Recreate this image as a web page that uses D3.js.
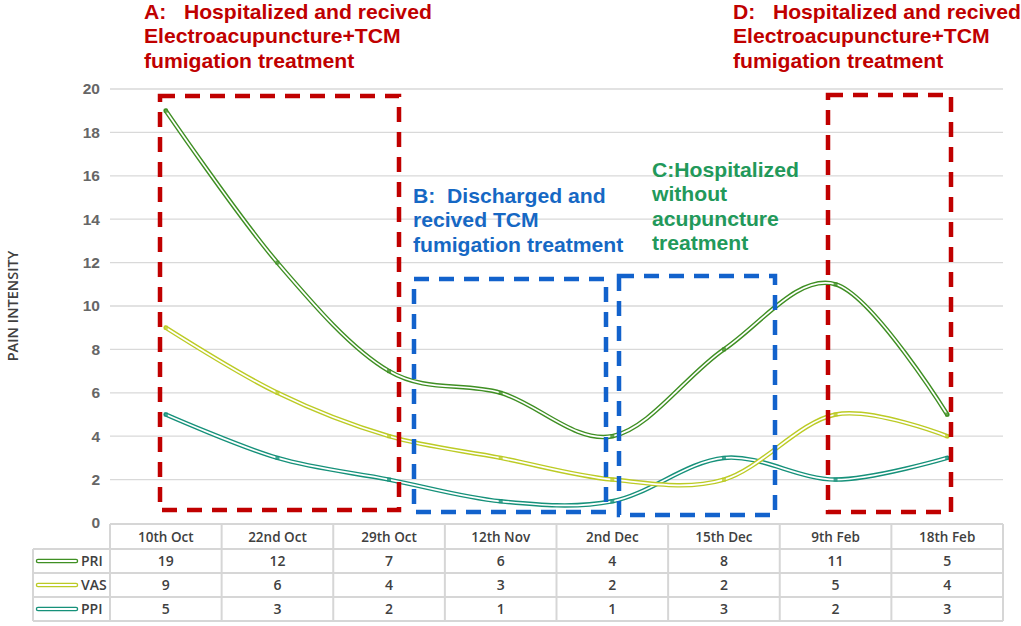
<!DOCTYPE html>
<html>
<head>
<meta charset="utf-8">
<script src="https://cdn.jsdelivr.net/npm/d3@7"></script>
<style>
  body { margin: 0; background: #fff; }
  svg { display: block; }
  .note { white-space: pre; }
</style>
</head>
<body>
<div id="chart"></div>
<script>
// data
const dates = ["10th Oct", "22nd Oct", "29th Oct", "12th Nov", "2nd Dec", "15th Dec", "9th Feb", "18th Feb"];
const PRI = [19, 12, 7, 6, 4, 8, 11, 5];
const VAS = [9, 6, 4, 3, 2, 2, 5, 4];
const PPI = [5, 3, 2, 1, 1, 3, 2, 3];
const yTicks = [0, 2, 4, 6, 8, 10, 12, 14, 16, 18, 20];

const seriesList = [
    { name: "PRI", values: PRI, color: "#3f8f23" },
    { name: "VAS", values: VAS, color: "#bccb25" },
    { name: "PPI", values: PPI, color: "#16917a" }
];

// annotation boxes and notes (pixels)
const boxes = [
    { x0: 160, x1: 399, y0: 96, y1: 510, color: "#c00000" },
    { x0: 414, x1: 606, y0: 279, y1: 512, color: "#1262cc" },
    { x0: 619, x1: 775, y0: 276, y1: 515, color: "#1262cc" },
    { x0: 828, x1: 951, y0: 95, y1: 512, color: "#c00000" }
];
const notes = [
    { x: 144, y: 19, color: "#c00000", lines: ["A:   Hospitalized and recived", "Electroacupuncture+TCM", "fumigation treatment"] },
    { x: 413, y: 203, color: "#1668c4", lines: ["B:  Discharged and", "recived TCM", "fumigation treatment"] },
    { x: 652, y: 177, color: "#22995a", lines: ["C:Hospitalized", "without", "acupuncture", "treatment"] },
    { x: 733, y: 19, color: "#c00000", lines: ["D:   Hospitalized and recived", "Electroacupuncture+TCM", "fumigation treatment"] }
];

const width = 1021, height = 626;
const plotLeft = 110, plotRight = 1003, plotTop = 89, plotBottom = 523;
const rowH = 24;

const svg = d3.select("#chart").append("svg")
    .attr("width", width)
    .attr("height", height);

const x = d3.scaleBand().domain(dates).range([plotLeft, plotRight]).padding(0);
const y = d3.scaleLinear().domain([0, 20]).range([plotBottom, plotTop]);
const cx = d => x(d) + x.bandwidth() / 2;

// gridlines
svg.append("g").selectAll("line")
    .data(yTicks.filter(t => t > 0))
    .enter().append("line")
    .attr("x1", plotLeft).attr("x2", plotRight)
    .attr("y1", d => y(d)).attr("y2", d => y(d))
    .attr("stroke", "#d9d9d9").attr("stroke-width", 1.3);

// y axis labels
const yAxis = svg.append("g")
    .attr("transform", `translate(${plotLeft - 10},0)`)
    .call(d3.axisLeft(y).tickValues(yTicks).tickSize(0).tickPadding(0));
yAxis.select(".domain").remove();
yAxis.selectAll("text")
    .attr("font-family", "Liberation Sans, Arial, sans-serif")
    .attr("font-weight", "bold")
    .attr("font-size", 15.5)
    .attr("fill", "#666");

svg.append("text")
    .attr("transform", "translate(18,306) rotate(-90)")
    .attr("text-anchor", "middle")
    .attr("font-family", "Open Sans, sans-serif")
    .attr("font-weight", 600)
    .attr("font-size", 14.5)
    .attr("fill", "#404040")
    .text("PAIN INTENSITY");

// table
const table = svg.append("g");
const tLeft = 33;
const gridColor = "#d6d6d6";
// horizontal lines
table.append("line").attr("x1", plotLeft).attr("x2", plotRight).attr("y1", plotBottom + 1).attr("y2", plotBottom + 1)
    .attr("stroke", gridColor).attr("stroke-width", 2);
for (let r = 1; r <= 4; r++) {
    const yy = plotBottom + 2 + r * rowH;
    table.append("line").attr("x1", tLeft).attr("x2", plotRight).attr("y1", yy).attr("y2", yy)
        .attr("stroke", gridColor).attr("stroke-width", 2);
}
// vertical lines
table.append("line").attr("x1", tLeft).attr("x2", tLeft)
    .attr("y1", plotBottom + 2 + rowH).attr("y2", plotBottom + 2 + 4 * rowH)
    .attr("stroke", gridColor).attr("stroke-width", 2);
table.selectAll(".vline")
    .data(dates.concat(["end"]))
    .enter().append("line")
    .attr("x1", (d, i) => plotLeft + i * x.bandwidth())
    .attr("x2", (d, i) => plotLeft + i * x.bandwidth())
    .attr("y1", plotBottom + 1).attr("y2", plotBottom + 2 + 4 * rowH)
    .attr("stroke", gridColor).attr("stroke-width", 2);

const cellFont = "Open Sans, sans-serif";
table.selectAll(".hdr")
    .data(dates)
    .enter().append("text")
    .attr("x", d => cx(d))
    .attr("y", plotBottom + 2 + rowH / 2)
    .attr("dy", "0.35em")
    .attr("text-anchor", "middle")
    .attr("font-family", cellFont).attr("font-weight", 600).attr("font-size", 13.5)
    .attr("fill", "#404040")
    .text(d => d);

seriesList.forEach((s, r) => {
    const rowY = plotBottom + 2 + (r + 1) * rowH + rowH / 2;
    table.append("line")
        .attr("x1", 38).attr("x2", 76).attr("y1", rowY).attr("y2", rowY)
        .attr("stroke", s.color).attr("stroke-width", 4.5).attr("stroke-linecap", "round");
    table.append("line")
        .attr("x1", 38).attr("x2", 76).attr("y1", rowY).attr("y2", rowY)
        .attr("stroke", "#fff").attr("stroke-width", 1.8).attr("stroke-linecap", "round");
    table.append("text")
        .attr("x", 81).attr("y", rowY).attr("dy", "0.35em")
        .attr("font-family", cellFont).attr("font-weight", 600).attr("font-size", 14)
        .attr("fill", "#404040")
        .text(s.name);
    table.selectAll(".cell" + r)
        .data(s.values)
        .enter().append("text")
        .attr("x", (d, i) => cx(dates[i]))
        .attr("y", rowY).attr("dy", "0.35em")
        .attr("text-anchor", "middle")
        .attr("font-family", cellFont).attr("font-weight", 600).attr("font-size", 14)
        .attr("fill", "#404040")
        .text(d => d);
});

// series lines (double stroke look)
const line = d3.line()
    .x((d, i) => cx(dates[i]))
    .y(d => y(d))
    .curve(d3.curveCatmullRom.alpha(0));

const lines = svg.append("g");
seriesList.slice().reverse().forEach(s => {
    lines.append("path")
        .datum(s.values)
        .attr("d", line)
        .attr("fill", "none")
        .attr("stroke", s.color)
        .attr("stroke-width", 4.5)
        .attr("stroke-linecap", "round");
    lines.append("path")
        .datum(s.values)
        .attr("d", line)
        .attr("fill", "none")
        .attr("stroke", "#fff")
        .attr("stroke-width", 1.7)
        .attr("stroke-linecap", "round");
    lines.selectAll(".m-" + s.name)
        .data(s.values)
        .enter().append("rect")
        .attr("x", (d, i) => cx(dates[i]) - 2)
        .attr("y", d => y(d) - 2)
        .attr("width", 4).attr("height", 4)
        .attr("fill", s.color).attr("opacity", 0.8);
});

// dashed boxes
svg.append("g").selectAll("rect")
    .data(boxes)
    .enter().append("rect")
    .attr("x", d => d.x0).attr("y", d => d.y0)
    .attr("width", d => d.x1 - d.x0).attr("height", d => d.y1 - d.y0)
    .attr("fill", "none")
    .attr("stroke", d => d.color)
    .attr("stroke-width", 4.5)
    .attr("stroke-dasharray", "15,10");

// notes (the reference type is a touch wider than Liberation Sans, so stretch it)
notes.forEach(n => {
    const t = svg.append("text")
        .attr("class", "note")
        .attr("transform", `translate(${n.x},0) scale(1.085,1)`)
        .attr("font-family", "Liberation Sans, Arial, sans-serif")
        .attr("font-weight", "bold")
        .attr("font-size", 19.5)
        .attr("fill", n.color);
    n.lines.forEach((l, i) => {
        t.append("tspan").attr("x", 0).attr("y", n.y + i * 24.5).text(l);
    });
});
</script>
</body>
</html>
